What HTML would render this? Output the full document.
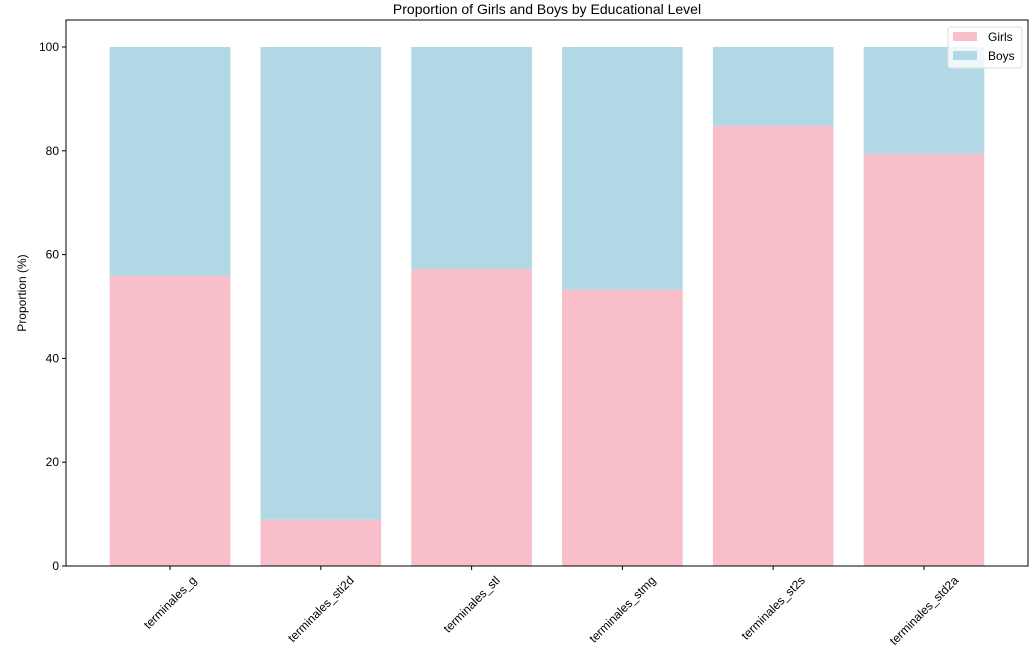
<!DOCTYPE html>
<html><head><meta charset="utf-8"><style>
body{margin:0;background:#fff;font-family:"Liberation Sans","DejaVu Sans",sans-serif}
</style></head><body>
<svg width="1032" height="667" xmlns="http://www.w3.org/2000/svg" font-family="'Liberation Sans','DejaVu Sans',sans-serif">
<text x="547" y="14" font-size="14" text-anchor="middle">Proportion of Girls and Boys by Educational Level</text>
<g id="plot"></g>
<text transform="translate(26,293) rotate(-90)" font-size="12" text-anchor="middle">Proportion (%)</text>
<g>
<rect x="948" y="27" width="74" height="41" rx="3" fill="#fff" fill-opacity="0.8" stroke="#ddd"/>
<rect x="953" y="32" width="24" height="9" fill="#f8bfcb"/>
<text x="988" y="41" font-size="12">Girls</text>
<rect x="953" y="51" width="24" height="9" fill="#b2d8e6"/>
<text x="988" y="60" font-size="12">Boys</text>
</g>
</svg>
<script>
const categories=["terminales_g","terminales_sti2d","terminales_stl","terminales_stmg","terminales_st2s","terminales_std2a"];
const girls=[55.9,8.9,57.2,53.2,84.8,79.4];
const yTicks=[0,20,40,60,80,100];
const L=66,R=1028,T=20,B=566;
const xs=i=>L+(i+0.69)*(R-L)/6.38;
const ys=v=>B-v*5.19;
const g=document.getElementById('plot');
const NS="http://www.w3.org/2000/svg";
function mk(t,a){const e=document.createElementNS(NS,t);for(const k in a)e.setAttribute(k,a[k]);g.appendChild(e);return e;}
const bw=0.8*(R-L)/6.38;
categories.forEach((c,i)=>{
 const x=xs(i)-bw/2;
 const gb=mk('rect',{x:x,y:ys(girls[i]),width:bw,height:ys(0)-ys(girls[i]),fill:'#f8bfcb'});
 
 
 const bb=mk('rect',{x:x,y:ys(100),width:bw,height:ys(girls[i])-ys(100),fill:'#b2d8e6'});
 
 
 mk('line',{x1:xs(i),x2:xs(i),y1:B,y2:B+4,stroke:'#000'});
 const t=mk('text',{x:0,y:0,'font-size':12,'text-anchor':'middle'});
 t.textContent=c;
 const len=t.getComputedTextLength();
 const h=(len+12)*0.7071;
 t.setAttribute('transform',`translate(${xs(i)},${B+8+h/2}) rotate(-45) translate(0,4)`);
 
 
});
yTicks.forEach(v=>{
 mk('line',{x1:L-4,x2:L,y1:ys(v),y2:ys(v),stroke:'#000'});
 const t=mk('text',{x:L-7,y:ys(v)+4,'font-size':12,'text-anchor':'end'});
 t.textContent=v;
 
 
});
const f=mk('rect',{x:L,y:T,width:R-L,height:B-T,fill:'none',stroke:'#000','stroke-width':1});


</script>
</body></html>
